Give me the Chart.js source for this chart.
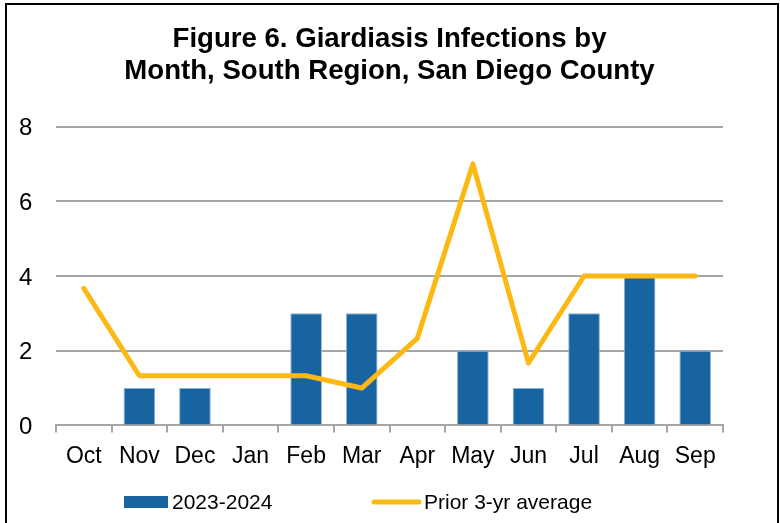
<!DOCTYPE html>
<html>
<head>
<meta charset="utf-8">
<script src="https://cdn.jsdelivr.net/npm/chart.js@4"></script>
<style>
  body { margin: 0; background: #fff; }
  #wrap { position: relative; width: 780px; height: 523px; overflow: hidden; }
  #cadre { position: absolute; left: 5px; top: 3px; width: 770px; height: 560px; border: 2px solid #000; pointer-events: none; }
  canvas { position: absolute; left: 0; top: 0; }
</style>
</head>
<body>
<div id="wrap">
  <canvas id="grafico" width="780" height="523"></canvas>
  <div id="cadre"></div>
</div>
<script>
// ===== DADOS =====
const meses = ["Oct", "Nov", "Dec", "Jan", "Feb", "Mar", "Apr", "May", "Jun", "Jul", "Aug", "Sep"];
const casos2324 = [0, 1, 1, 0, 3, 3, 0, 2, 1, 3, 4, 2];
const media3anos = [3.67, 1.33, 1.33, 1.33, 1.33, 1.0, 2.33, 7, 1.67, 4, 4, 4];
const ticksY = [0, 2, 4, 6, 8];

const AZUL = "#1764A0";
const LARANJA = "#FDB913";
const CINZA = "#A6A6A6";
const FONTE = "'Liberation Sans', Arial, sans-serif";

// ===== LEGENDA DESENHADA À MÃO =====
const legendaManual = {
  id: "legendaManual",
  afterDraw(chart) {
    const c = chart.ctx;
    c.save();
    c.fillStyle = AZUL;
    c.fillRect(124, 496, 44, 12);
    c.strokeStyle = LARANJA;
    c.lineWidth = 5;
    c.lineCap = "round";
    c.beginPath();
    c.moveTo(374, 502);
    c.lineTo(419, 502);
    c.stroke();
    c.fillStyle = "#000";
    c.font = "21px " + FONTE;
    c.textBaseline = "middle";
    c.fillText("2023-2024", 172, 503);
    c.fillText("Prior 3-yr average", 424, 503);
    c.restore();
  }
};

new Chart(document.getElementById("grafico"), {
  data: {
    labels: meses,
    datasets: [
      {
        type: "line",
        label: "Prior 3-yr average",
        data: media3anos,
        borderColor: LARANJA,
        borderWidth: 5,
        borderCapStyle: "round",
        borderJoinStyle: "round",
        pointRadius: 0,
        tension: 0,
        order: 0
      },
      {
        type: "bar",
        label: "2023-2024",
        data: casos2324,
        backgroundColor: AZUL,
        borderColor: "#8FB3D6",
        borderWidth: 1,
        barPercentage: 1,
        categoryPercentage: 0.57,
        order: 1
      }
    ]
  },
  options: {
    responsive: false,
    animation: false,
    layout: { padding: { left: 56, right: 57, top: 23, bottom: 43 } },
    plugins: {
      legend: { display: false },
      tooltip: { enabled: false },
      title: {
        display: true,
        text: ["Figure 6. Giardiasis Infections by", "Month, South Region, San Diego County"],
        color: "#000",
        font: { family: FONTE, size: 27.6, weight: "bold", lineHeight: 1.17 },
        padding: { top: 0, bottom: 39 }
      }
    },
    scales: {
      x: {
        grid: { offset: true, drawOnChartArea: false, drawTicks: true, tickLength: 7, color: CINZA, lineWidth: 2 },
        border: { color: CINZA, width: 2 },
        ticks: { color: "#000", font: { family: FONTE, size: 23 }, padding: 10, maxRotation: 0 }
      },
      y: {
        min: 0,
        max: 8,
        afterBuildTicks: axis => { axis.ticks = ticksY.map(v => ({ value: v })); },
        afterFit: axis => { axis.width = 0; },
        grid: { color: CINZA, lineWidth: 2, drawTicks: false },
        border: { display: false },
        ticks: { color: "#000", font: { family: FONTE, size: 24 }, mirror: true, padding: -37, labelOffset: 2 }
      }
    }
  },
  plugins: [legendaManual]
});
</script>
</body>
</html>
